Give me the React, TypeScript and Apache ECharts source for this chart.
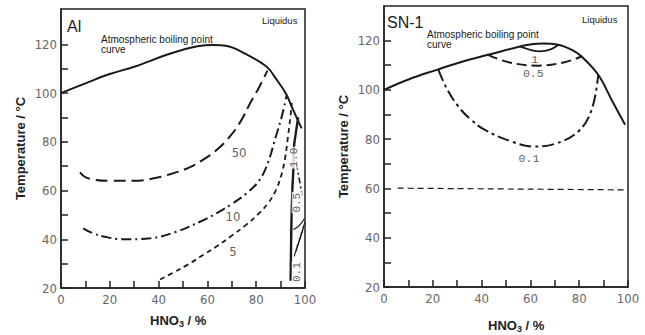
import React, { useEffect, useRef } from "react";
import * as echarts from "echarts";

// ---------- Data ----------
// Left panel (Al)
const boilingL: number[][] = [[0, 100], [10, 104], [20, 107.8], [30, 110.8], [43, 115.6], [50, 117.8], [56, 119.2], [62, 119.7], [68, 119.3], [75, 116.4], [84.3, 110.8], [88, 106], [92.1, 99.9], [95.2, 93], [98.6, 85.5]];
const curve50: number[][] = [[7.8, 67.5], [10, 65.5], [14, 64.4], [20, 64], [30, 64], [38, 65], [45, 66.8], [52, 69.2], [58, 72.5], [64, 76.8], [69.5, 82.5], [74, 89], [77.5, 95.8], [81, 102], [84.6, 109.2]];
const curve10: number[][] = [[9.1, 44.5], [13, 42.5], [18, 41], [25.5, 40], [36.5, 40.4], [47, 43], [57, 47.2], [64, 50.8], [70, 54.5], [76, 58.8], [81.5, 64.5], [85, 72], [88, 82], [90.5, 90.5], [92.4, 98.8]];
const curve5: number[][] = [[40.6, 23.5], [46, 26.3], [52, 29.6], [58, 33.4], [64, 37.2], [70, 41.5], [76, 46], [81, 50.5], [85, 55], [88, 60], [90.2, 66], [91.8, 73], [93, 82], [94, 90], [94.6, 96]];
const curve1p0: number[][] = [[97.2, 90], [96.3, 84], [95.5, 78], [95.2, 68], [94.8, 60], [94.4, 45], [94.2, 30], [94.1, 23]];
const curve0p5: number[][] = [[96.5, 71], [97.6, 65], [98.8, 58]];
const hatchEdge: number[][] = [[95.2, 44], [97.5, 45.5], [99.8, 48.5]];
const hatchLines: (number[] | string)[] = [[95.6, 33], [97.0, 38], "-", [96.4, 35], [97.8, 40.5], "-", [97.2, 37.5], [98.6, 43], "-", [98.0, 40], [99.4, 45.5], "-", [98.8, 42.5], [99.9, 47]];
const labelsL: (number | string)[][] = [[73, 75.8, "50"], [70.5, 49.3, "10"], [70.5, 35, "5"]];
const labelsLRot: (number | string)[][] = [[95.6, 73.5, "1.0"], [96.8, 55, "0.5"], [96.8, 26.5, "0.1"]];

// Right panel (SN-1)
const boilingR: number[][] = [[0, 100], [10, 104.2], [21.6, 108.1], [32, 111.4], [42.7, 114.2], [55.7, 117.6], [60, 118.4], [65, 118.8], [71.4, 118.3], [77, 116.2], [81, 113.5], [87.8, 106.1], [93.3, 95.9], [98.8, 85.8]];
const r1: number[][] = [[55.7, 117.6], [60, 116.2], [64, 115.6], [68, 116.3], [71.4, 118.2]];
const r05: number[][] = [[42.7, 114.2], [51, 111.2], [63, 109.8], [74, 111.2], [81, 113.5]];
const r01: number[][] = [[22.3, 108.1], [26, 100], [30.5, 93.2], [35.5, 88], [41.4, 83.7], [52.3, 79], [61.2, 77], [70.1, 78.1], [79.6, 83.1], [85.1, 91.9], [87.8, 106.1]];
const r60: number[][] = [[5.6, 60.1], [100, 59.4]];
const labelsR: (number | string)[][] = [[61.8, 112.2, "1"], [61.2, 106.5, "0.5"], [59.4, 72.3, "0.1"]];

const yTicks = [20, 30, 40, 50, 60, 70, 80, 90, 100, 110, 120];
const yLabels = [20, 40, 60, 80, 100, 120];
const xTicks = [0, 10, 20, 30, 40, 50, 60, 70, 80, 90, 100];
const xLabels = [0, 20, 40, 60, 80, 100];

const AX = "#222";
const TICKFONT = "'Liberation Sans Narrow', 'DejaVu Sans Condensed', 'Liberation Sans', sans-serif";
const FONT = "'Liberation Sans', Arial, sans-serif";
const MONO = "'Liberation Mono', 'DejaVu Sans Mono', monospace";

function lineS(data: any, xi: number, dash: any, width = 2, smooth: any = 0.4) {
  return {
    type: "line",
    xAxisIndex: xi,
    yAxisIndex: xi,
    data,
    smooth,
    symbol: "none",
    silent: true,
    lineStyle: { color: "#1a1a1a", width, type: dash },
  };
}

function labelS(data: any, xi: number, rotate: number, fontSize: number, fontFamily: string, bg?: string) {
  return {
    type: "scatter",
    xAxisIndex: xi,
    yAxisIndex: xi,
    data,
    symbolSize: 0,
    silent: true,
    z: 5,
    label: {
      show: true,
      position: "inside",
      formatter: (p: any) => p.value[2],
      rotate,
      fontSize,
      fontFamily,
      color: "#333",
      backgroundColor: bg,
      padding: bg ? [0, 1] : 0,
    },
  };
}

function xAx(gi: number) {
  return {
    type: "value",
    gridIndex: gi,
    min: 0,
    max: 100,
    interval: 10,
    axisLine: { lineStyle: { color: AX, width: 1.5 } },
    axisTick: { inside: true, length: 7, customValues: xTicks, lineStyle: { color: AX, width: 1.5 } },
    axisLabel: { customValues: xLabels, color: "#666", fontSize: 13, fontFamily: TICKFONT, margin: 5 },
    splitLine: { show: false },
  };
}

function yAx(gi: number, max: number) {
  return {
    type: "value",
    gridIndex: gi,
    min: 20,
    max,
    name: "Temperature / °C",
    nameLocation: "middle",
    nameGap: 34,
    nameTextStyle: { fontFamily: FONT, fontSize: 13, fontWeight: "bold", color: "#222" },
    axisLine: { lineStyle: { color: AX, width: 1.5 } },
    axisTick: { inside: true, length: 7, customValues: yTicks, lineStyle: { color: AX, width: 1.5 } },
    axisLabel: { customValues: yLabels, color: "#666", fontSize: 13, fontFamily: TICKFONT, margin: 4 },
    splitLine: { show: false },
  };
}

function txt(x: number, y: number, text: string, fontSize: number, extra: any = {}) {
  return {
    type: "text",
    x,
    y,
    silent: true,
    style: { text, fontSize, fontFamily: FONT, fill: "#1a1a1a", ...extra },
  };
}

function hno3(x: number, y: number) {
  return {
    type: "text",
    x,
    y,
    silent: true,
    style: {
      text: "{a|HNO}{s|3}{a| / %}",
      rich: {
        a: { fontSize: 13, fontFamily: FONT, fontWeight: "bold", fill: "#222", color: "#222" },
        s: { fontSize: 9, fontFamily: FONT, fontWeight: "bold", fill: "#222", color: "#222", padding: [6, 0, 0, 0] },
      },
    },
  };
}

export default function App() {
  const ref = useRef<HTMLDivElement>(null);
  useEffect(() => {
    if (!ref.current) return;
    const chart = echarts.init(ref.current, undefined, { renderer: "svg" });
    chart.setOption({
      animation: false,
      backgroundColor: "#fff",
      grid: [
        { left: 61, top: 9, width: 244, height: 279, show: true, borderColor: AX, borderWidth: 1.5 },
        { left: 384, top: 6, width: 244, height: 281, show: true, borderColor: AX, borderWidth: 1.5 },
      ],
      xAxis: [xAx(0), xAx(1)],
      yAxis: [yAx(0, 134.5), yAx(1, 134)],
      series: [
        lineS(boilingL, 0, "solid", 2),
        lineS(curve50, 0, [12, 6], 2),
        lineS(curve10, 0, [10, 4, 2, 4], 2),
        lineS(curve5, 0, [5, 4], 1.8),
        lineS(curve1p0, 0, "solid", 2.4),
        lineS(curve0p5, 0, [6, 3, 2, 3], 1.6, false),
        lineS(hatchEdge, 0, "solid", 1.2),
        { ...lineS(hatchLines, 0, "solid", 1.1, false), connectNulls: false },
        labelS(labelsL, 0, 0, 13, TICKFONT),
        labelS(labelsLRot, 0, 90, 11, MONO, "#fff"),
        lineS(boilingR, 1, "solid", 2),
        lineS(r1, 1, "solid", 1.8),
        lineS(r05, 1, [10, 5], 2),
        lineS(r01, 1, [12, 4, 3, 4], 2),
        lineS(r60, 1, [6, 4], 1.2, false),
        labelS(labelsR, 1, 0, 11.5, MONO),
      ],
      graphic: [
        txt(67, 18, "Al", 16),
        txt(387, 14, "SN-1", 16),
        txt(262, 15, "Liquidus", 9.5),
        txt(582, 14, "Liquidus", 9.5),
        txt(101, 34.5, "Atmospheric boiling point\ncurve", 10, { lineHeight: 10 }),
        txt(427, 29.5, "Atmospheric boiling point\ncurve", 10, { lineHeight: 10 }),
        hno3(150, 313),
        hno3(488, 318),
      ],
    });
    return () => chart.dispose();
  }, []);
  return (
    <div
      ref={ref}
      style={{ position: "fixed", left: 0, top: 0, width: 645, height: 335 }}
    />
  );
}
